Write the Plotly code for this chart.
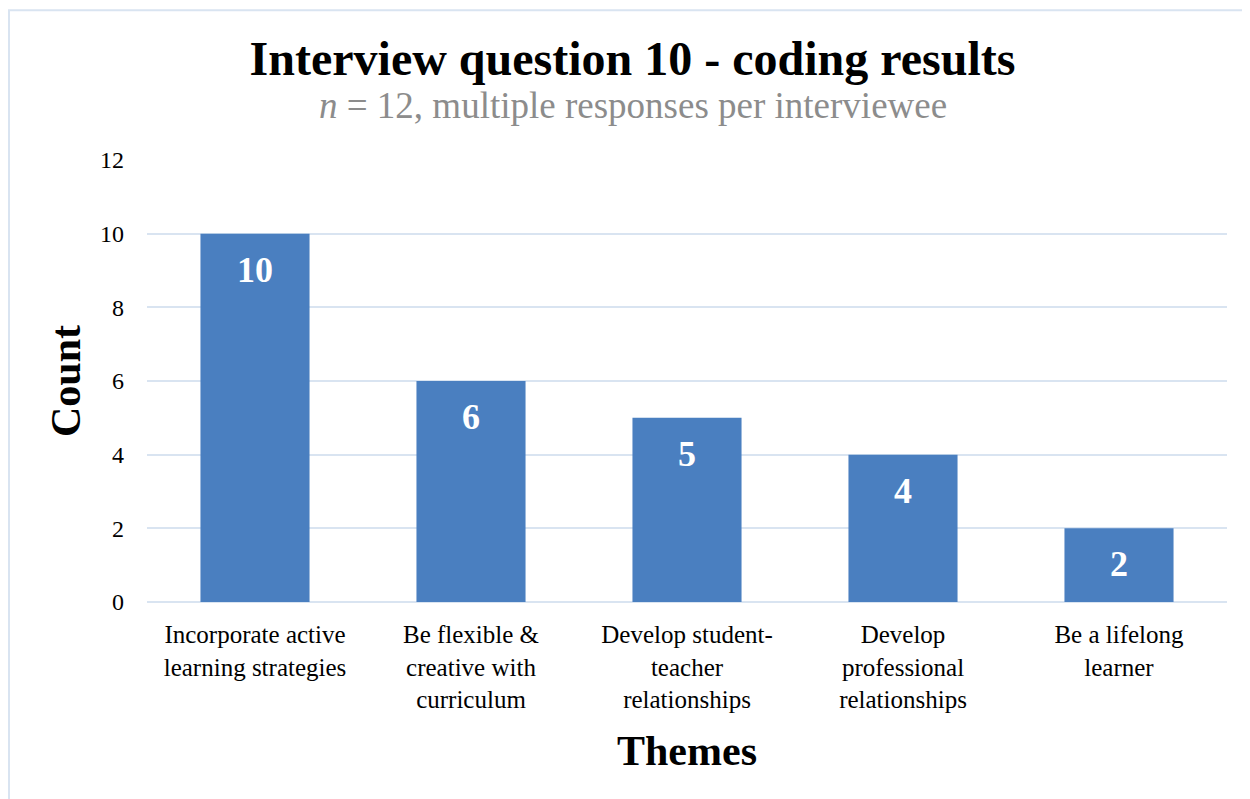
import plotly.graph_objects as go

categories = ["Incorporate active<br>learning strategies",
              "Be flexible &<br>creative with<br>curriculum",
              "Develop student-<br>teacher<br>relationships",
              "Develop<br>professional<br>relationships",
              "Be a lifelong<br>learner"]
counts = [10, 6, 5, 4, 2]
y_ticks = [0, 2, 4, 6, 8, 10, 12]

SERIF = "Liberation Serif, Times New Roman, serif"

fig = go.Figure(go.Bar(
    x=categories, y=counts,
    marker=dict(color="#4a7fc0", line=dict(width=0)),
    hoverinfo="x+y",
))

for c, v in zip(categories, counts):
    fig.add_annotation(x=c, y=v, text=f"<b>{v}</b>", showarrow=False,
                       yanchor="top", yshift=-14,
                       font=dict(family=SERIF, size=36, color="white"))

fig.add_annotation(xref="paper", yref="paper", x=0.45, y=1.0, yshift=32,
                   xanchor="center", yanchor="bottom", showarrow=False,
                   text="<i>n</i> = 12, multiple responses per interviewee",
                   font=dict(family=SERIF, size=37, color="#8c8c8c"))

fig.update_layout(
    width=1250, height=799,
    margin=dict(l=139, r=31, t=152, b=205),
    paper_bgcolor="white", plot_bgcolor="white",
    bargap=0.495,
    showlegend=False,
    title=dict(
        text="<b>Interview question 10 - coding results</b>",
        x=0.4996, xanchor="center", y=0.9162, yanchor="bottom",
        font=dict(family=SERIF, size=48, color="black"),
    ),
    xaxis=dict(
        tickfont=dict(family=SERIF, size=25, color="black"),
        showgrid=False, showline=False, ticks="", ticklabelstandoff=15,
        title=dict(text="<b>Themes</b>", font=dict(family=SERIF, size=42, color="black"), standoff=23),
    ),
    yaxis=dict(
        range=[0, 12], tickvals=y_ticks,
        tickfont=dict(family=SERIF, size=24, color="black"),
        showgrid=True, gridcolor="#d9e4f1", gridwidth=2,
        zeroline=True, zerolinecolor="#d9e4f1", zerolinewidth=2,
        showline=False, ticks="", ticklabelstandoff=22,
        title=dict(text="<b>Count</b>", font=dict(family=SERIF, size=42, color="black"), standoff=6),
    ),
    shapes=[dict(type="rect", xref="paper", yref="paper",
                 x0=-0.1278, x1=1.03, y0=-0.5, y1=1.339,
                 line=dict(color="#d9e4f1", width=2), fillcolor="rgba(0,0,0,0)", layer="below")],
)

fig.write_html("out.html")
